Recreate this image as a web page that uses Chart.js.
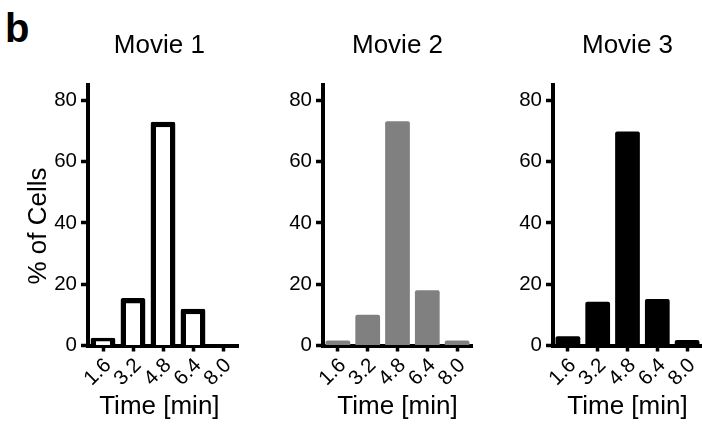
<!DOCTYPE html>
<html>
<head>
<meta charset="utf-8">
<script src="https://cdn.jsdelivr.net/npm/chart.js"></script>
<style>
  body { margin: 0; background: #fff; }
  #wrap { position: relative; width: 702px; height: 427px; overflow: hidden; }
  canvas { position: absolute; top: 0; }
  .panel-tag {
    position: absolute; left: 5px; top: 8px;
    font: bold 40px/40px "Liberation Sans", Arial, sans-serif; color: #000;
  }
</style>
</head>
<body>
<div id="wrap">
  <div class="panel-tag">b</div>
  <canvas id="c1" width="240" height="427" style="left:0px"></canvas>
  <canvas id="c2" width="234" height="427" style="left:240px"></canvas>
  <canvas id="c3" width="228" height="427" style="left:474px"></canvas>
</div>
<script>
// data (% of cells per period bin)
const categories = ['1.6', '3.2', '4.8', '6.4', '8.0'];
const movie1 = [2.5, 15.5, 73, 12, 0];
const movie2 = [1.6, 10, 73.2, 18, 1.6];
const movie3 = [3, 14.3, 69.8, 15.2, 1.8];
const yTicks = [0, 20, 40, 60, 80];
const titles = ['Movie 1', 'Movie 2', 'Movie 3'];

const FONT = '"Liberation Sans", Arial, sans-serif';
const NB = '\u00a0';

function makePanel(id, title, values, style, plotLeft, padRight, showYTitle, tail) {
  const ctx = document.getElementById(id).getContext('2d');
  return new Chart(ctx, {
    type: 'bar',
    data: {
      labels: categories,
      datasets: [{
        data: values,
        backgroundColor: style.fill,
        borderColor: style.stroke,
        borderWidth: style.borderWidth,
        borderSkipped: 'start',
        borderRadius: 2,
        barPercentage: 0.83,
        categoryPercentage: 1.0
      }]
    },
    options: {
      responsive: false,
      animation: false,
      devicePixelRatio: 1,
      layout: { padding: { top: 0, left: 0, right: padRight, bottom: 0 } },
      plugins: { legend: { display: false }, tooltip: { enabled: false } },
      scales: {
        x: {
          offset: true,
          grid: { offset: false, drawOnChartArea: false, tickLength: 6, tickWidth: 3.5, tickColor: '#000' },
          border: { display: true, width: 4, color: '#000' },
          ticks: {
            autoSkip: false, minRotation: 45, maxRotation: 45, padding: 2, labelOffset: 5,
            color: '#000', font: { family: FONT, size: 20.5 }
          },
          title: { display: true, text: 'Time [min]' + tail, color: '#000', font: { family: FONT, size: 26 }, padding: { top: 0, bottom: 5 } },
          afterFit: s => {
            s.height = 427 - 345.5;
            // keep the plot edges fixed; rotated labels fit anyway
            s.paddingLeft = 0;
            s.paddingRight = 0;
          }
        },
        // top scale only carries the panel title, centred over the plot
        top: {
          type: 'category',
          position: 'top',
          grid: { display: false },
          border: { display: false },
          ticks: { display: false },
          title: { display: true, text: title + tail, color: '#000', font: { family: FONT, size: 26 }, padding: { top: 30, bottom: 0 } },
          afterFit: s => { s.height = 85; s.paddingLeft = 0; s.paddingRight = 0; }
        },
        y: {
          min: 0,
          max: 85,
          grid: { drawOnChartArea: false, tickLength: 7, tickWidth: 3.5, tickColor: '#000' },
          border: { display: true, width: 4, color: '#000' },
          ticks: {
            stepSize: 20, includeBounds: false, padding: 4, color: '#000',
            font: { family: FONT, size: 20.5 },
            callback: v => yTicks.includes(v) ? v : ''
          },
          title: {
            display: showYTitle, text: '% of Cells' + NB + NB + NB, color: '#000',
            font: { family: FONT, size: 26 }, padding: { top: 23, bottom: 0 }
          },
          afterFit: s => { s.width = plotLeft; s.paddingTop = 0; s.paddingBottom = 0; }
        }
      }
    }
  });
}

makePanel('c1', titles[0], movie1, { fill: '#fff', stroke: '#000', borderWidth: 5.5 }, 88, 2, true, NB);
makePanel('c2', titles[1], movie2, { fill: '#808080', stroke: '#808080', borderWidth: 0 }, 83, 2, false, '');
makePanel('c3', titles[2], movie3, { fill: '#000', stroke: '#000', borderWidth: 0 }, 79, 0, false, '');
</script>
</body>
</html>
